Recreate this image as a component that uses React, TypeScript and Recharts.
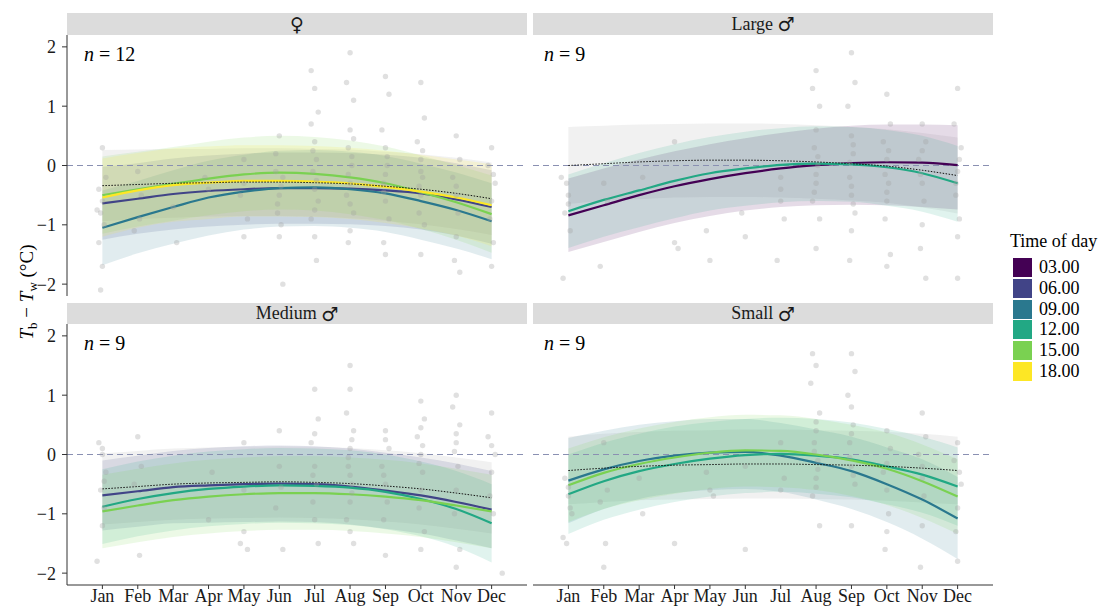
import React from "react";
import { Area, ComposedChart, Line, ReferenceLine, Scatter, XAxis, YAxis } from "recharts";

const FONT = "Liberation Serif, Tinos, Times New Roman, DejaVu Serif, serif";
const SYMFONT = "DejaVu Sans, sans-serif";

const months = ["Jan", "Feb", "Mar", "Apr", "May", "Jun", "Jul", "Aug", "Sep", "Oct", "Nov", "Dec"];
const monthTicks = [1, 2, 3, 4, 5, 6, 7, 8, 9, 10, 11, 12];
const yTicks = [-2, -1, 0, 1, 2];
const timeLabels = ["03.00", "06.00", "09.00", "12.00", "15.00", "18.00"];
const timeColors = ["#440154", "#414487", "#2A788E", "#22A884", "#7AD151", "#FDE725"];

// ---- female
const femMean06 = [-0.64, -0.56, -0.48, -0.43, -0.4, -0.38, -0.38, -0.39, -0.42, -0.47, -0.57, -0.7];
const femLo06 = [-1.25, -1.15, -1.08, -1.03, -1.0, -0.98, -0.98, -0.99, -1.02, -1.08, -1.18, -1.32];
const femHi06 = [-0.02, 0.04, 0.12, 0.17, 0.2, 0.22, 0.22, 0.21, 0.18, 0.13, 0.04, -0.08];
const femMean09 = [-1.05, -0.87, -0.7, -0.54, -0.44, -0.38, -0.37, -0.4, -0.47, -0.6, -0.75, -0.94];
const femLo09 = [-1.68, -1.48, -1.32, -1.18, -1.08, -1.03, -1.02, -1.05, -1.12, -1.25, -1.4, -1.58];
const femHi09 = [-0.42, -0.26, -0.08, 0.08, 0.18, 0.25, 0.26, 0.23, 0.16, 0.03, -0.12, -0.3];
const femMean15 = [-0.5, -0.4, -0.31, -0.22, -0.15, -0.12, -0.14, -0.2, -0.3, -0.45, -0.62, -0.82];
const femLo15 = [-1.15, -1.03, -0.93, -0.84, -0.77, -0.74, -0.76, -0.82, -0.92, -1.07, -1.25, -1.47];
const femHi15 = [0.15, 0.23, 0.31, 0.4, 0.47, 0.5, 0.48, 0.42, 0.32, 0.17, 0.01, -0.17];
const femMean18 = [-0.54, -0.42, -0.33, -0.29, -0.26, -0.26, -0.27, -0.3, -0.36, -0.44, -0.54, -0.67];
const femLo18 = [-1.2, -1.05, -0.95, -0.9, -0.86, -0.86, -0.87, -0.9, -0.97, -1.06, -1.18, -1.36];
const femHi18 = [0.12, 0.21, 0.29, 0.32, 0.34, 0.34, 0.33, 0.3, 0.25, 0.18, 0.1, 0.02];
const femAll = [-0.34, -0.32, -0.3, -0.29, -0.28, -0.28, -0.29, -0.31, -0.35, -0.4, -0.47, -0.56];
const femAllLo = [-0.94, -0.9, -0.88, -0.86, -0.85, -0.85, -0.86, -0.89, -0.93, -0.99, -1.07, -1.17];
const femAllHi = [0.26, 0.27, 0.28, 0.28, 0.29, 0.29, 0.28, 0.27, 0.23, 0.19, 0.13, 0.05];
const femDots = [
  [0.9, -0.4], [1.0, -0.6], [0.95, -0.8], [1.05, -1.0], [0.9, -1.3], [1.0, -1.7], [0.95, -2.1], [1.1, -0.2], [0.85, -0.75], [1.0, 0.3],
  [2.0, -0.1], [2.1, -0.5], [1.9, -1.1], [2.05, -0.9], [3.0, -0.7], [3.1, -1.3], [4.0, -0.4], [3.9, -0.2],
  [5.0, -0.3], [5.1, -0.9], [5.0, -1.2], [4.9, -0.5], [5.0, 0.1],
  [6.0, 0.5], [5.9, 0.2], [6.1, -0.2], [6.0, -0.5], [5.95, -0.8], [6.05, -1.0], [6.0, -1.2], [6.1, -2.0], [5.9, -0.1], [6.05, -0.35], [5.95, -0.65],
  [7.0, 1.3], [7.1, 0.9], [6.9, 0.7], [7.0, 0.4], [7.05, 0.1], [6.95, -0.1], [7.0, -0.4], [7.1, -0.6], [6.9, -0.9], [7.0, -1.2], [7.05, -1.6],
  [6.95, 0.25], [7.05, -0.25], [7.0, -0.75], [6.9, 1.6],
  [8.0, 1.9], [7.9, 1.4], [8.1, 1.1], [8.0, 0.6], [7.95, 0.3], [8.05, 0.0], [8.0, -0.3], [7.9, -0.5], [8.1, -0.8], [8.0, -1.1], [7.95, -1.3],
  [8.05, 0.15], [7.95, -0.15], [8.0, -0.65], [8.1, 0.45],
  [9.0, 1.5], [9.1, 1.2], [8.9, 0.6], [9.0, 0.3], [9.05, 0.0], [8.95, -0.3], [9.0, -0.6], [9.1, -0.9], [8.95, -1.3], [9.0, -1.5],
  [9.05, 0.15], [8.95, -0.45], [9.0, -0.15],
  [10.0, 1.4], [10.1, 0.8], [9.9, 0.4], [10.0, 0.1], [10.05, -0.2], [10.0, -0.5], [9.95, -0.8], [10.1, -1.0], [10.0, -1.5],
  [10.05, 0.25], [9.95, -0.35], [10.0, -0.1],
  [11.0, 0.5], [11.1, 0.1], [10.9, -0.2], [11.0, -0.5], [11.05, -0.8], [11.0, -1.2], [10.95, -1.6], [11.1, -1.8], [11.0, -0.35],
  [12.0, 0.3], [11.9, 0.0], [12.1, -0.3], [12.0, -0.6], [11.95, -0.9], [12.05, -1.3], [12.0, -1.7], [12.05, -0.15],
];

// ---- large male
const lrgMean03 = [-0.84, -0.67, -0.5, -0.35, -0.23, -0.13, -0.05, 0.005, 0.04, 0.055, 0.05, 0.005];
const lrgLo03 = [-1.46, -1.29, -1.12, -0.97, -0.85, -0.76, -0.7, -0.67, -0.66, -0.67, -0.7, -0.74];
const lrgHi03 = [-0.22, -0.05, 0.1, 0.24, 0.36, 0.46, 0.55, 0.62, 0.67, 0.69, 0.69, 0.68];
const lrgMean12 = [-0.77, -0.58, -0.42, -0.26, -0.13, -0.05, 0.01, 0.03, 0.02, -0.03, -0.13, -0.3];
const lrgLo12 = [-1.39, -1.2, -1.04, -0.89, -0.76, -0.68, -0.62, -0.6, -0.61, -0.68, -0.78, -0.95];
const lrgHi12 = [-0.15, 0.04, 0.21, 0.36, 0.48, 0.57, 0.63, 0.66, 0.65, 0.6, 0.5, 0.33];
const lrgAll = [0.0, 0.03, 0.06, 0.08, 0.09, 0.09, 0.08, 0.06, 0.03, -0.01, -0.08, -0.17];
const lrgAllLo = [-0.65, -0.6, -0.57, -0.54, -0.53, -0.53, -0.54, -0.56, -0.59, -0.63, -0.71, -0.81];
const lrgAllHi = [0.65, 0.67, 0.69, 0.7, 0.71, 0.71, 0.7, 0.68, 0.65, 0.61, 0.55, 0.47];
const lrgDots = [
  [0.8, -0.2], [1.0, -0.5], [0.9, -0.8], [1.05, -1.1], [0.85, -1.9], [0.95, -0.3], [1.0, -0.65],
  [2.0, -0.3], [2.1, -0.6], [1.9, -1.7], [3.1, -0.2], [4.0, 0.4], [4.0, -1.3], [4.1, -1.4], [5.0, -1.6], [4.9, -1.1],
  [6.0, -1.2], [5.9, -0.8], [6.9, -1.6], [7.0, -0.6], [7.1, -0.9], [7.0, -0.4], [7.0, -0.2],
  [8.0, 1.6], [7.9, 1.3], [8.1, 1.0], [8.0, 0.6], [7.95, 0.3], [8.05, 0.0], [8.0, -0.3], [7.9, -0.6], [8.1, -0.9], [8.0, -1.4],
  [8.05, 0.15], [7.95, -0.45], [8.0, -0.15],
  [9.0, 1.9], [9.1, 1.4], [8.9, 1.0], [9.0, 0.5], [9.05, 0.2], [8.95, -0.2], [9.0, -0.5], [9.1, -0.8], [9.0, -1.1], [8.95, -1.6],
  [9.05, 0.35], [8.95, 0.05], [9.0, -0.35], [9.05, -0.65],
  [10.0, 1.2], [10.1, 0.7], [9.9, 0.4], [10.0, 0.1], [10.05, -0.3], [10.0, -0.6], [9.95, -0.9], [10.1, -1.5], [10.0, -1.7],
  [10.05, 0.25], [9.95, -0.15], [10.0, -0.45],
  [11.0, 0.7], [11.1, 0.4], [10.9, 0.1], [11.0, -0.3], [11.05, -0.6], [11.0, -1.0], [10.95, -1.4], [11.1, -1.9], [11.0, 0.25], [10.95, -0.15],
  [12.0, 1.3], [11.9, 0.7], [12.1, 0.3], [12.0, -0.1], [11.95, -0.5], [12.05, -0.9], [12.0, -1.2], [12.0, -1.9], [12.05, 0.1], [11.95, -0.3],
];

// ---- medium male
const medMean06 = [-0.69, -0.62, -0.55, -0.52, -0.5, -0.49, -0.5, -0.54, -0.61, -0.69, -0.8, -0.93];
const medLo06 = [-1.28, -1.22, -1.16, -1.15, -1.14, -1.13, -1.14, -1.18, -1.25, -1.33, -1.45, -1.58];
const medHi06 = [-0.1, -0.02, 0.06, 0.11, 0.14, 0.15, 0.14, 0.1, 0.03, -0.05, -0.15, -0.28];
const medMean12 = [-0.88, -0.75, -0.65, -0.58, -0.54, -0.52, -0.53, -0.56, -0.63, -0.75, -0.92, -1.16];
const medLo12 = [-1.51, -1.38, -1.28, -1.21, -1.17, -1.15, -1.16, -1.19, -1.26, -1.38, -1.56, -1.82];
const medHi12 = [-0.25, -0.12, -0.02, 0.05, 0.09, 0.11, 0.1, 0.07, 0.0, -0.12, -0.28, -0.5];
const medMean15 = [-0.96, -0.86, -0.77, -0.71, -0.67, -0.65, -0.65, -0.67, -0.71, -0.77, -0.86, -0.96];
const medLo15 = [-1.58, -1.48, -1.39, -1.33, -1.29, -1.27, -1.27, -1.29, -1.33, -1.39, -1.48, -1.58];
const medHi15 = [-0.34, -0.24, -0.15, -0.09, -0.05, -0.03, -0.03, -0.05, -0.09, -0.15, -0.24, -0.34];
const medAll = [-0.58, -0.54, -0.5, -0.48, -0.47, -0.46, -0.47, -0.49, -0.53, -0.58, -0.65, -0.73];
const medAllLo = [-1.18, -1.14, -1.1, -1.08, -1.07, -1.06, -1.07, -1.09, -1.13, -1.18, -1.25, -1.33];
const medAllHi = [0.02, 0.06, 0.1, 0.12, 0.13, 0.14, 0.13, 0.11, 0.07, 0.02, -0.05, -0.13];
const medDots = [
  [0.9, 0.2], [1.0, 0.0], [1.1, -0.3], [0.95, -0.6], [1.05, -0.9], [1.0, -1.2], [0.85, -1.8], [1.0, 0.1], [1.05, -0.45],
  [2.0, 0.3], [2.1, -0.2], [1.9, -0.5], [2.05, -1.7], [4.0, -1.1], [4.1, -0.3],
  [5.0, 0.2], [5.0, -1.3], [4.9, -1.5], [5.1, -1.6], [5.0, -0.6], [6.0, 0.4], [5.9, -0.9], [6.1, -1.6], [6.0, -0.2], [6.05, -0.55],
  [7.0, 1.1], [7.1, 0.6], [6.9, 0.2], [7.0, -0.2], [7.05, -0.5], [6.95, -0.8], [7.0, -1.1], [7.1, -1.5], [7.0, 0.35], [6.95, -0.35],
  [8.0, 1.1], [7.9, 0.7], [8.1, 0.4], [8.0, 0.1], [7.95, -0.2], [8.05, -0.5], [8.0, -0.8], [7.9, -1.1], [8.1, -1.5], [8.0, -1.3],
  [8.0, 1.5], [8.05, 0.25], [7.95, -0.05], [8.0, -0.35], [8.05, -0.65],
  [9.0, 0.4], [9.1, 0.1], [8.9, -0.2], [9.0, -0.5], [9.05, -0.8], [8.95, -1.1], [9.0, -1.7], [9.0, 0.25], [8.95, -0.35],
  [10.0, 0.9], [10.1, 0.6], [9.9, 0.3], [10.0, 0.0], [10.05, -0.3], [10.0, -0.6], [9.95, -0.9], [10.1, -1.3], [10.0, -1.6],
  [10.0, 0.45], [10.05, 0.15], [9.95, -0.15],
  [11.0, 1.0], [10.9, 0.8], [11.1, 0.5], [11.0, 0.2], [11.05, -0.2], [11.0, -0.6], [10.95, -1.0], [11.1, -1.6], [11.0, -1.9], [11.0, 0.35], [10.95, 0.05],
  [12.0, 0.7], [11.9, 0.3], [12.1, 0.0], [12.0, -0.3], [11.95, -0.7], [12.05, -1.0], [12.3, -2.0], [12.0, 0.15],
];

// ---- small male
const smlMean09 = [-0.44, -0.25, -0.11, -0.02, 0.03, 0.045, -0.02, -0.14, -0.28, -0.5, -0.76, -1.08];
const smlLo09 = [-1.16, -0.92, -0.75, -0.65, -0.6, -0.58, -0.63, -0.76, -0.92, -1.14, -1.42, -1.76];
const smlHi09 = [0.28, 0.4, 0.5, 0.56, 0.6, 0.6, 0.53, 0.42, 0.3, 0.12, -0.08, -0.38];
const smlMean12 = [-0.67, -0.45, -0.28, -0.16, -0.07, -0.01, 0.01, -0.02, -0.08, -0.2, -0.34, -0.54];
const smlLo12 = [-1.34, -1.1, -0.93, -0.8, -0.71, -0.65, -0.63, -0.66, -0.72, -0.84, -0.98, -1.2];
const smlHi12 = [0.0, 0.2, 0.35, 0.47, 0.55, 0.6, 0.62, 0.6, 0.54, 0.43, 0.3, 0.12];
const smlMean15 = [-0.52, -0.31, -0.16, -0.05, 0.03, 0.07, 0.06, 0.0, -0.1, -0.24, -0.45, -0.71];
const smlLo15 = [-1.14, -0.92, -0.77, -0.66, -0.58, -0.54, -0.55, -0.6, -0.7, -0.85, -1.07, -1.34];
const smlHi15 = [0.1, 0.29, 0.44, 0.55, 0.63, 0.67, 0.66, 0.6, 0.5, 0.37, 0.17, -0.08];
const smlAll = [-0.27, -0.23, -0.2, -0.18, -0.17, -0.16, -0.16, -0.17, -0.18, -0.2, -0.23, -0.27];
const smlAllLo = [-0.84, -0.8, -0.77, -0.76, -0.75, -0.74, -0.74, -0.75, -0.76, -0.78, -0.81, -0.84];
const smlAllHi = [0.3, 0.35, 0.38, 0.4, 0.41, 0.42, 0.42, 0.41, 0.4, 0.38, 0.35, 0.3];
const smlDots = [
  [0.9, -0.4], [1.0, -0.7], [1.1, -1.0], [0.85, -1.4], [0.95, -1.5], [1.05, -0.9], [1.0, -0.55],
  [2.0, 0.2], [2.1, -0.6], [1.9, -0.8], [2.05, -1.5], [2.0, -1.9], [3.1, -1.0], [3.0, -0.4], [4.0, -1.5],
  [5.0, -0.6], [5.1, -0.7], [4.9, -0.3], [6.0, -1.6], [6.0, -0.2], [7.0, 0.2], [7.0, -0.6], [7.1, -0.4],
  [8.0, 1.5], [7.9, 1.7], [7.85, 1.2], [8.1, 0.7], [8.0, 0.4], [7.95, 0.2], [8.05, -0.1], [8.0, -0.4], [7.9, -0.7], [8.1, -1.2],
  [8.0, 0.55], [7.95, 0.05], [8.05, -0.25], [8.0, -0.55],
  [9.0, 1.7], [9.1, 1.4], [8.9, 1.0], [9.0, 0.8], [9.05, 0.5], [8.95, 0.2], [9.0, -0.2], [9.1, -0.5], [9.0, -1.2],
  [9.0, 0.35], [8.95, -0.05], [9.05, -0.35],
  [10.0, 0.4], [10.1, 0.1], [9.9, -0.3], [10.0, -0.6], [10.05, -1.0], [10.0, -1.3], [9.95, -1.6], [10.0, -0.15],
  [11.0, 0.7], [11.1, 0.3], [10.9, 0.0], [11.0, -0.4], [11.05, -0.7], [11.0, -1.2], [10.95, -1.9], [11.0, -0.2],
  [12.0, 0.2], [11.9, -0.1], [12.1, -0.5], [12.0, -0.9], [11.95, -1.3], [12.0, -1.8], [12.05, -0.3],
];

type Series = { t: number; mean: number[]; lo: number[]; hi: number[] };
type PanelCfg = {
  strip: string;
  sym: string;
  n: string;
  series: Series[];
  all: number[];
  allLo: number[];
  allHi: number[];
  dots: number[][];
};

const panels: PanelCfg[] = [
  {
    strip: "", sym: "\u2640", n: "12",
    series: [
      { t: 1, mean: femMean06, lo: femLo06, hi: femHi06 },
      { t: 2, mean: femMean09, lo: femLo09, hi: femHi09 },
      { t: 4, mean: femMean15, lo: femLo15, hi: femHi15 },
      { t: 5, mean: femMean18, lo: femLo18, hi: femHi18 },
    ],
    all: femAll, allLo: femAllLo, allHi: femAllHi, dots: femDots,
  },
  {
    strip: "Large ", sym: "\u2642", n: "9",
    series: [
      { t: 0, mean: lrgMean03, lo: lrgLo03, hi: lrgHi03 },
      { t: 3, mean: lrgMean12, lo: lrgLo12, hi: lrgHi12 },
    ],
    all: lrgAll, allLo: lrgAllLo, allHi: lrgAllHi, dots: lrgDots,
  },
  {
    strip: "Medium ", sym: "\u2642", n: "9",
    series: [
      { t: 1, mean: medMean06, lo: medLo06, hi: medHi06 },
      { t: 3, mean: medMean12, lo: medLo12, hi: medHi12 },
      { t: 4, mean: medMean15, lo: medLo15, hi: medHi15 },
    ],
    all: medAll, allLo: medAllLo, allHi: medAllHi, dots: medDots,
  },
  {
    strip: "Small ", sym: "\u2642", n: "9",
    series: [
      { t: 2, mean: smlMean09, lo: smlLo09, hi: smlHi09 },
      { t: 3, mean: smlMean12, lo: smlLo12, hi: smlHi12 },
      { t: 4, mean: smlMean15, lo: smlLo15, hi: smlHi15 },
    ],
    all: smlAll, allLo: smlAllLo, allHi: smlAllHi, dots: smlDots,
  },
];

const fmtY = (v: number) => (v < 0 ? "\u2212" + Math.abs(v) : String(v));

const Dot = (props: any) => (
  <circle cx={props.cx} cy={props.cy} r={2.7} fill="#a0a0a0" fillOpacity={0.33} />
);

function Panel({ cfg, left, top, showX, showY }: { cfg: PanelCfg; left: number; top: number; showX: boolean; showY: boolean }) {
  const plotW = 460;
  const plotH = 261;
  const yW = showY ? 67 : 0;
  const xH = showX ? 22 : 0;
  const data = months.map((_, i) => {
    const row: any = { m: i + 1, all: cfg.all[i], allBand: [cfg.allLo[i], cfg.allHi[i]] };
    cfg.series.forEach((s) => {
      row["mean" + s.t] = s.mean[i];
      row["band" + s.t] = [s.lo[i], s.hi[i]];
    });
    return row;
  });
  const dots = cfg.dots.map(([m, dv]) => ({ m, dv }));
  return (
    <div style={{ position: "absolute", left: left - yW, top }}>
      <ComposedChart width={plotW + yW} height={plotH + xH} data={data} margin={{ top: 0, right: 0, bottom: 0, left: 0 }}>
        <XAxis
          type="number"
          dataKey="m"
          domain={[0, 13]}
          ticks={monthTicks}
          interval={0}
          tickFormatter={(v) => months[v - 1]}
          hide={!showX}
          height={xH}
          tickSize={4}
          tickMargin={0}
          stroke="#333"
          tick={{ fill: "#1a1a1a", fontSize: 18, fontFamily: FONT }}
          allowDataOverflow
        />
        <YAxis
          type="number"
          domain={[-2.2, 2.2]}
          ticks={yTicks}
          interval={0}
          tickFormatter={fmtY}
          hide={!showY}
          width={yW}
          tickSize={5}
          tickMargin={6}
          stroke="#333"
          tick={{ fill: "#1a1a1a", fontSize: 18, fontFamily: FONT }}
          allowDataOverflow
        />
        <Scatter data={dots} dataKey="dv" shape={Dot} isAnimationActive={false} />
        <Area type="monotone" dataKey="allBand" fill="#9a9a9a" fillOpacity={0.14} stroke="none" isAnimationActive={false} />
        {cfg.series.map((s) => (
          <Area
            key={"b" + s.t}
            type="monotone"
            dataKey={"band" + s.t}
            fill={timeColors[s.t]}
            fillOpacity={0.14}
            stroke="none"
            isAnimationActive={false}
          />
        ))}
        <ReferenceLine y={0} stroke="#8a90b2" strokeDasharray="6 4" strokeWidth={1.1} />
        {cfg.series.map((s) => (
          <Line
            key={"l" + s.t}
            type="monotone"
            dataKey={"mean" + s.t}
            stroke={timeColors[s.t]}
            strokeWidth={2.2}
            dot={false}
            isAnimationActive={false}
          />
        ))}
        <Line type="monotone" dataKey="all" stroke="#111" strokeWidth={1} strokeDasharray="1.5 1.5" dot={false} isAnimationActive={false} />
      </ComposedChart>
    </div>
  );
}

function Strip({ label, sym, left, top, height }: { label: string; sym: string; left: number; top: number; height: number }) {
  return (
    <div
      style={{
        position: "absolute", left, top, width: 460, height, background: "#dcdcdc",
        display: "flex", alignItems: "center", justifyContent: "center",
        fontFamily: FONT, fontSize: 18, color: "#1a1a1a", whiteSpace: "pre",
      }}
    >
      {label}
      <span style={{ fontFamily: SYMFONT, fontSize: 19 }}>{sym}</span>
    </div>
  );
}

function NLabel({ n, left, top }: { n: string; left: number; top: number }) {
  return (
    <div style={{ position: "absolute", left, top, fontFamily: FONT, fontSize: 20, color: "#000", lineHeight: "20px", whiteSpace: "pre" }}>
      <i>n</i>{" = " + n}
    </div>
  );
}

export default function App() {
  const pos = [
    { left: 67, top: 35, stripTop: 13, stripH: 22, showX: false, showY: true },
    { left: 533, top: 35, stripTop: 13, stripH: 22, showX: false, showY: false },
    { left: 67, top: 324, stripTop: 303, stripH: 21, showX: true, showY: true },
    { left: 533, top: 324, stripTop: 303, stripH: 21, showX: true, showY: false },
  ];
  return (
    <div style={{ position: "absolute", left: 0, top: 0, width: 1101, height: 607, background: "#fff", overflow: "hidden" }}>
      {panels.map((cfg, i) => (
        <React.Fragment key={i}>
          <Strip label={cfg.strip} sym={cfg.sym} left={pos[i].left} top={pos[i].stripTop} height={pos[i].stripH} />
          <Panel cfg={cfg} left={pos[i].left} top={pos[i].top} showX={pos[i].showX} showY={pos[i].showY} />
          <NLabel n={cfg.n} left={pos[i].left + (i % 2 === 0 ? 17 : 11)} top={pos[i].top + 9} />
        </React.Fragment>
      ))}
      <svg style={{ position: "absolute", left: 0, top: 0 }} width={60} height={607}>
        <text
          x={33}
          y={292}
          transform="rotate(-90 33 292)"
          textAnchor="middle"
          fontFamily={FONT}
          fontSize={19}
          fill="#000"
        >
          <tspan fontStyle="italic">T</tspan>
          <tspan fontSize={13} dy={4}>b</tspan>
          <tspan dy={-4}>{" \u2212 "}</tspan>
          <tspan fontStyle="italic">T</tspan>
          <tspan fontSize={13} dy={4}>w</tspan>
          <tspan dy={-4}>{" (\u00b0C)"}</tspan>
        </text>
      </svg>
      <div style={{ position: "absolute", left: 1010, top: 231, fontFamily: FONT, fontSize: 18, color: "#000", lineHeight: "20px", whiteSpace: "nowrap" }}>
        Time of day
      </div>
      {timeLabels.map((lab, i) => (
        <React.Fragment key={lab}>
          <div style={{ position: "absolute", left: 1013, top: 258 + i * 20.8, width: 19, height: 19, background: timeColors[i] }} />
          <div style={{ position: "absolute", left: 1039, top: 258 + i * 20.8, fontFamily: FONT, fontSize: 18, color: "#000", lineHeight: "19px" }}>
            {lab}
          </div>
        </React.Fragment>
      ))}
    </div>
  );
}
